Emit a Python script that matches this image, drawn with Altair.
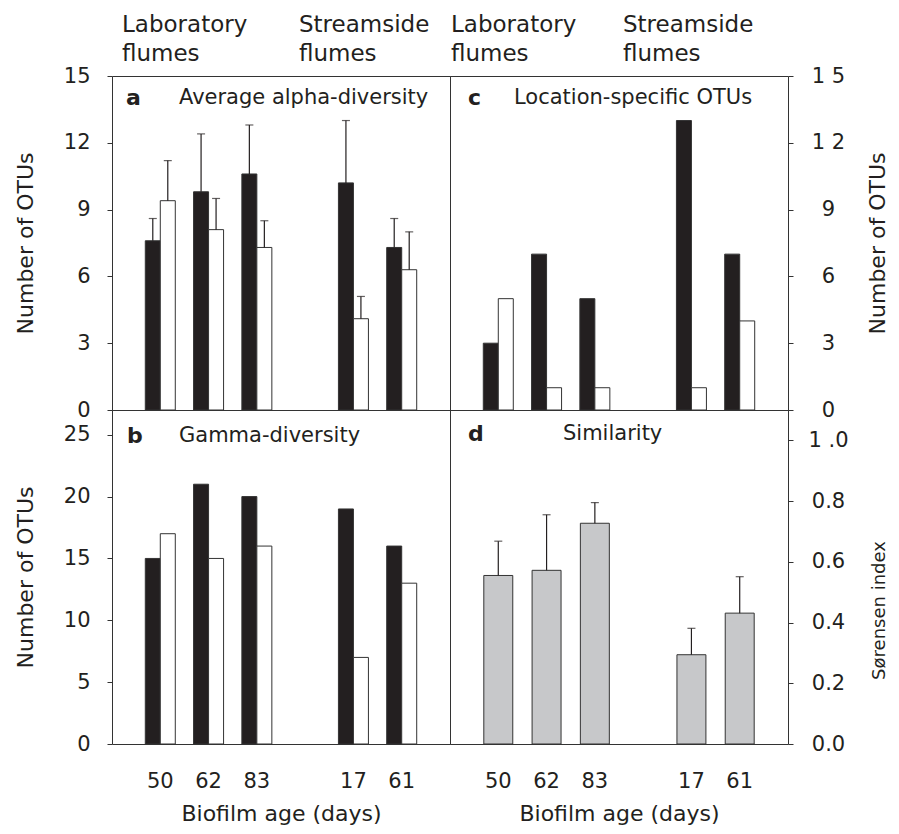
import altair as alt
import pandas as pd

# ---------------- data ----------------
ages = ["50", "62", "83", "17", "61"]
slots = ["50", "62", "83", " ", "17", "61"]          # x categories incl. the empty slot
series = ["filled", "open"]

alpha_filled = [7.6, 9.8, 10.6, 10.2, 7.3]
alpha_filled_err = [1.0, 2.6, 2.2, 2.8, 1.3]
alpha_open = [9.4, 8.1, 7.3, 4.1, 6.3]
alpha_open_err = [1.8, 1.4, 1.2, 1.0, 1.7]

gamma_filled = [15, 21, 20, 19, 16]
gamma_open = [17, 15, 16, 7, 13]

loc_filled = [3, 7, 5, 13, 7]
loc_open = [5, 1, 1, 1, 4]

sim = [0.555, 0.572, 0.727, 0.294, 0.431]
sim_err = [0.113, 0.183, 0.068, 0.087, 0.120]

a_ticks = [0, 3, 6, 9, 12, 15]
b_ticks = [0, 5, 10, 15, 20, 25]
d_ticks = [0.0, 0.2, 0.4, 0.6, 0.8, 1.0]

FONT = "DejaVu Sans"
INK = "#231f20"
W, H = 338, 334


def pair_df(filled, opened, ferr=None, oerr=None):
    rows = []
    for i, age in enumerate(ages):
        rows.append({"age": age, "series": "filled", "value": filled[i],
                     "upper": filled[i] + (ferr[i] if ferr else 0)})
        rows.append({"age": age, "series": "open", "value": opened[i],
                     "upper": opened[i] + (oerr[i] if oerr else 0)})
    return pd.DataFrame(rows)


def x_enc(bottom):
    if bottom:
        axis = alt.Axis(title="Biofilm age (days)", labelAngle=0, ticks=False, tickSize=0,
                        domain=False, labelPadding=26, titlePadding=12,
                        labelFontSize=21, titleFontSize=22)
    else:
        axis = None
    return alt.X("age:N", scale=alt.Scale(domain=slots, paddingInner=0, paddingOuter=0.5),
                 axis=axis)


def xoff():
    return alt.XOffset("series:N", scale=alt.Scale(domain=series, paddingInner=0, paddingOuter=0.61))


def left_axis(values):
    return alt.Axis(values=values, title="Number of OTUs", orient="left", tickSize=5,
                    labelPadding=17, minExtent=50, maxExtent=50, titlePadding=25,
                    grid=False, domain=False, labelFontSize=21, titleFontSize=22)


def right_axis(values, title, label_expr, title_size=22, title_y=None, fmt=None, tpad=21):
    kw = dict(values=values, title=title, orient="right", tickSize=5, labelAlign="center",
              labelPadding=35, minExtent=58, maxExtent=58, titlePadding=tpad,
              titleAngle=270, titleBaseline="top", grid=False, domain=False,
              labelFontSize=21, titleFontSize=title_size, labelExpr=label_expr)
    if title_y is not None:
        kw["titleY"] = title_y
    if fmt is not None:
        kw["format"] = fmt
    return alt.Axis(**kw)


def note(txt, x, y, size=21, bold=False, align="left", baseline="middle", **kw):
    return alt.Chart(pd.DataFrame({"t": [txt]})).mark_text(
        align=align, baseline=baseline, fontSize=size,
        fontWeight="bold" if bold else "normal", color=INK, font=FONT, **kw
    ).encode(text="t:N", x=alt.value(x), y=alt.value(y))


def top_labels(x1, x2):
    kw = dict(size=23, baseline="alphabetic", lineBreak="\n", lineHeight=29)
    return [note("Laboratory\nflumes", x1, -44, **kw),
            note("Streamside\nflumes", x2, -44, **kw)]


def paired_panel(df, domain, yaxis, bottom, errors):
    base = alt.Chart(df)
    ysc = alt.Scale(domain=domain, nice=False, zero=True)
    bars = base.mark_bar(stroke="#333", strokeWidth=1).encode(
        x=x_enc(bottom), xOffset=xoff(),
        y=alt.Y("value:Q", scale=ysc, axis=yaxis),
        fill=alt.Fill("series:N", scale=alt.Scale(domain=series, range=[INK, "#ffffff"]),
                      legend=None),
    )
    layers = [bars]
    if errors:
        layers.append(base.mark_rule(color=INK, strokeWidth=1.2).encode(
            x=x_enc(bottom), xOffset=xoff(), y="value:Q", y2="upper:Q"))
        layers.append(base.mark_tick(color=INK, thickness=1.2, size=8).encode(
            x=x_enc(bottom), xOffset=xoff(), y="upper:Q"))
    return layers


# ---------------- panel a ----------------
df_a = pair_df(alpha_filled, alpha_open, alpha_filled_err, alpha_open_err)
pa = alt.layer(
    *paired_panel(df_a, [0, 15], left_axis(a_ticks), False, True),
    note("a", 14, 22, size=22, bold=True),
    note("Average alpha-diversity", 67, 22),
    *top_labels(10, 187),
).properties(width=W, height=H)

# ---------------- panel c ----------------
df_c = pair_df(loc_filled, loc_open)
c_expr = "datum.value == 15 ? '1 5' : datum.value == 12 ? '1 2' : datum.label"
pc = alt.layer(
    *paired_panel(df_c, [0, 15], right_axis(a_ticks, "Number of OTUs", c_expr), False, False),
    note("c", 18, 22, size=22, bold=True),
    note("Location-specific OTUs", 64, 22),
    *top_labels(1, 173),
).properties(width=W, height=H)

# ---------------- panel b ----------------
df_b = pair_df(gamma_filled, gamma_open)
pb = alt.layer(
    *paired_panel(df_b, [0, 27], left_axis(b_ticks), True, False),
    note("b", 15, 26, size=22, bold=True),
    note("Gamma-diversity", 67, 26),
).properties(width=W, height=H)

# ---------------- panel d ----------------
df_d = pd.DataFrame({"age": ages, "value": sim,
                     "upper": [v + e for v, e in zip(sim, sim_err)]})
d_expr = "datum.value == 1 ? '1 .0' : datum.label"
dbase = alt.Chart(df_d)
dsc = alt.Scale(domain=[0, 1.1], nice=False, zero=True)
pd_bars = dbase.mark_bar(fill="#c7c8ca", stroke="#333", strokeWidth=1,
                         width=alt.RelativeBandSize(0.6)).encode(
    x=x_enc(True),
    y=alt.Y("value:Q", scale=dsc,
            axis=right_axis(d_ticks, "Sørensen index", d_expr, title_size=18,
                            title_y=200, fmt=".1f", tpad=24)),
)
pd_rule = dbase.mark_rule(color=INK, strokeWidth=1.2).encode(
    x=x_enc(True), y="value:Q", y2="upper:Q")
pd_cap = dbase.mark_tick(color=INK, thickness=1.2, size=8).encode(
    x=x_enc(True), y="upper:Q")
pdd = alt.layer(
    pd_bars, pd_rule, pd_cap,
    note("d", 18, 24, size=22, bold=True),
    note("Similarity", 113, 24),
).properties(width=W, height=H)

chart = alt.concat(pa, pc, pb, pdd, columns=2, spacing=0, bounds="flush").properties(
    padding={"left": 5, "top": 5, "right": 0, "bottom": 0},
    background="white",
).configure(font=FONT).configure_view(
    stroke="#333", strokeWidth=1
).configure_axis(
    labelColor=INK, titleColor=INK, tickColor="#333", titleFontWeight="normal",
    labelFont=FONT, titleFont=FONT,
)

chart.save("out.html", embed_options={"renderer": "svg", "actions": False})
